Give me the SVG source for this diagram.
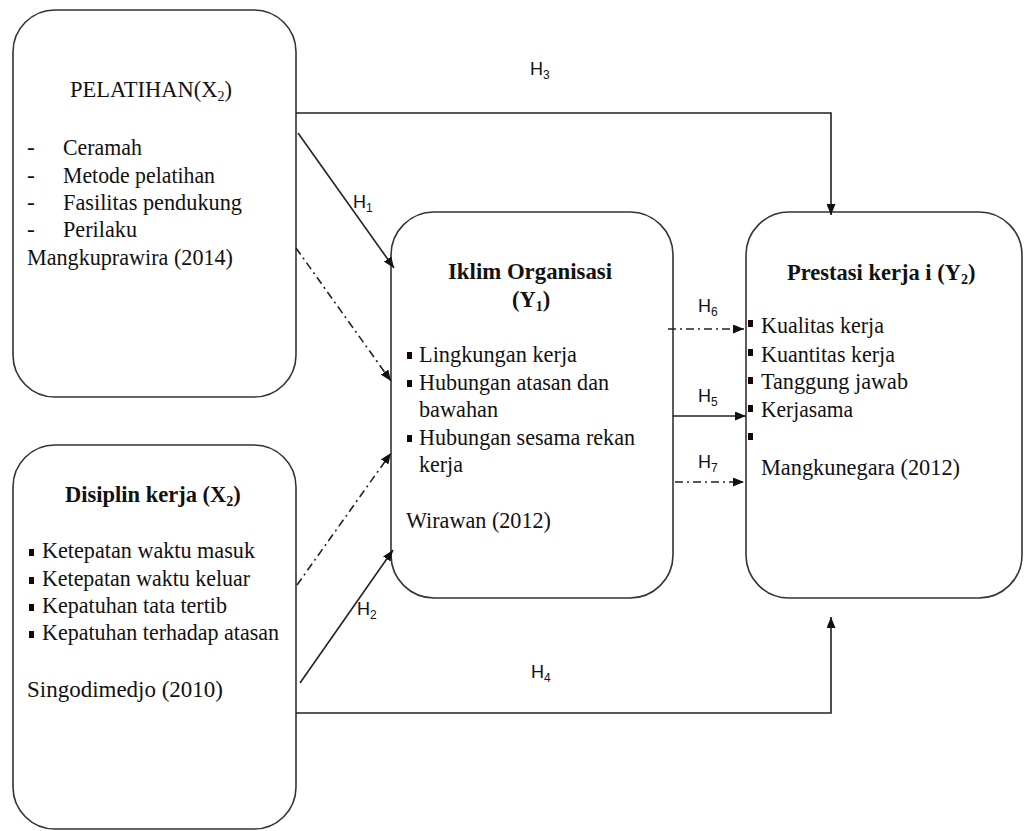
<svg xmlns="http://www.w3.org/2000/svg" width="1024" height="831" viewBox="0 0 1024 831">
<style>
.box{fill:#fff;stroke:#333;stroke-width:1.6}
.t{font-family:"Liberation Serif","Times New Roman",serif;font-size:23.5px;fill:#111}
.b{font-weight:bold}
.tt{font-size:22.5px}
.h{font-family:"Liberation Sans",Arial,sans-serif;font-size:18px;fill:#111}
.sub{font-size:14px}
.hs{font-size:12px}
.bul{fill:#1a0505}
.ln{fill:none;stroke:#222;stroke-width:1.6}
.dd{stroke-dasharray:8 4 2 4}
</style>
<defs>
<marker id="arr" markerUnits="userSpaceOnUse" markerWidth="11" markerHeight="9" refX="11" refY="4.5" orient="auto">
<path d="M0,0 L11,4.5 L0,9 z" fill="#111"/>
</marker>
</defs>
<rect width="1024" height="831" fill="#fff"/>

<g id="pelatihan">
<rect class="box" x="13" y="10" width="283" height="387" rx="42" ry="42"/>
<text class="t tt" x="70" y="97">PELATIHAN(X<tspan class="sub" dy="4">2</tspan><tspan dy="-4">)</tspan></text>
<text class="t" x="27" y="155">-</text><text class="t" x="63" y="155" textLength="79" lengthAdjust="spacingAndGlyphs">Ceramah</text>
<text class="t" x="27" y="183">-</text><text class="t" x="63" y="183" textLength="152" lengthAdjust="spacingAndGlyphs">Metode pelatihan</text>
<text class="t" x="27" y="210">-</text><text class="t" x="63" y="210" textLength="179" lengthAdjust="spacingAndGlyphs">Fasilitas pendukung</text>
<text class="t" x="27" y="237">-</text><text class="t" x="63" y="237" textLength="74" lengthAdjust="spacingAndGlyphs">Perilaku</text>
<text class="t" x="27" y="265" textLength="206" lengthAdjust="spacingAndGlyphs">Mangkuprawira (2014)</text>
</g>

<g id="disiplin">
<rect class="box" x="13" y="445" width="283" height="384" rx="42" ry="42"/>
<text class="t b tt" x="65" y="502">Disiplin kerja (X<tspan class="sub" dy="4">2</tspan><tspan dy="-4">)</tspan></text>
<rect class="bul" x="29" y="549" width="5" height="7"/><text class="t" x="42" y="558" textLength="213" lengthAdjust="spacingAndGlyphs">Ketepatan  waktu masuk</text>
<rect class="bul" x="29" y="577" width="5" height="7"/><text class="t" x="42" y="586" textLength="208" lengthAdjust="spacingAndGlyphs">Ketepatan  waktu keluar</text>
<rect class="bul" x="29" y="604" width="5" height="7"/><text class="t" x="42" y="613" textLength="185" lengthAdjust="spacingAndGlyphs">Kepatuhan  tata tertib</text>
<rect class="bul" x="29" y="631" width="5" height="7"/><text class="t" x="42" y="640" textLength="237" lengthAdjust="spacingAndGlyphs">Kepatuhan  terhadap atasan</text>
<text class="t" x="27" y="697" textLength="196" lengthAdjust="spacingAndGlyphs">Singodimedjo  (2010)</text>
</g>

<g id="iklim">
<rect class="box" x="391" y="212" width="282" height="386" rx="43" ry="43"/>
<text class="t b" x="448" y="279" textLength="164" lengthAdjust="spacingAndGlyphs">Iklim Organisasi</text>
<text class="t b tt" x="512" y="307">(Y<tspan class="sub" dy="4">1</tspan><tspan dy="-4">)</tspan></text>
<rect class="bul" x="407" y="352" width="5" height="7"/><text class="t" x="419" y="362" textLength="158" lengthAdjust="spacingAndGlyphs">Lingkungan kerja</text>
<rect class="bul" x="407" y="380" width="5" height="7"/><text class="t" x="419" y="390" textLength="190" lengthAdjust="spacingAndGlyphs">Hubungan atasan dan</text>
<text class="t" x="419" y="417" textLength="79" lengthAdjust="spacingAndGlyphs">bawahan</text>
<rect class="bul" x="407" y="435" width="5" height="7"/><text class="t" x="419" y="445" textLength="216" lengthAdjust="spacingAndGlyphs">Hubungan sesama rekan</text>
<text class="t" x="419" y="472" textLength="44" lengthAdjust="spacingAndGlyphs">kerja</text>
<text class="t" x="406" y="528" textLength="145" lengthAdjust="spacingAndGlyphs">Wirawan (2012)</text>
</g>

<g id="prestasi">
<rect class="box" x="746" y="212" width="276" height="386" rx="43" ry="43"/>
<text class="t b tt" x="787" y="280">Prestasi kerja i (Y<tspan class="sub" dy="4">2</tspan><tspan dy="-4">)</tspan></text>
<rect class="bul" x="748" y="320" width="5" height="7"/><text class="t" x="761" y="333" textLength="123" lengthAdjust="spacingAndGlyphs">Kualitas  kerja</text>
<rect class="bul" x="748" y="349" width="5" height="7"/><text class="t" x="761" y="362" textLength="134" lengthAdjust="spacingAndGlyphs">Kuantitas  kerja</text>
<rect class="bul" x="748" y="377" width="5" height="7"/><text class="t" x="761" y="389" textLength="147" lengthAdjust="spacingAndGlyphs">Tanggung jawab</text>
<rect class="bul" x="748" y="405" width="5" height="7"/><text class="t" x="761" y="417" textLength="92" lengthAdjust="spacingAndGlyphs">Kerjasama</text>
<rect class="bul" x="748" y="433" width="5" height="7"/>
<text class="t" x="761" y="475" textLength="199" lengthAdjust="spacingAndGlyphs">Mangkunegara (2012)</text>
</g>

<g id="connectors">
<polyline class="ln" points="296,113 831,113 831,215" marker-end="url(#arr)"/>
<line class="ln" x1="298" y1="133" x2="394" y2="268" marker-end="url(#arr)"/>
<line class="ln dd" x1="296" y1="248" x2="391" y2="381" marker-end="url(#arr)"/>
<line class="ln dd" x1="297" y1="585" x2="391" y2="453" marker-end="url(#arr)"/>
<line class="ln" x1="300" y1="683" x2="393" y2="550" marker-end="url(#arr)"/>
<polyline class="ln" points="296,713 831,713 831,617" marker-end="url(#arr)"/>
<line class="ln dd" x1="668" y1="329" x2="744" y2="329" marker-end="url(#arr)"/>
<line class="ln" x1="673" y1="416" x2="746" y2="416" marker-end="url(#arr)"/>
<line class="ln dd" x1="675" y1="482" x2="744" y2="482" marker-end="url(#arr)"/>
<text class="h" x="530" y="75">H<tspan class="hs" dy="4">3</tspan></text>
<text class="h" x="353" y="208">H<tspan class="hs" dy="4">1</tspan></text>
<text class="h" x="357" y="615">H<tspan class="hs" dy="4">2</tspan></text>
<text class="h" x="531" y="678">H<tspan class="hs" dy="4">4</tspan></text>
<text class="h" x="698" y="312">H<tspan class="hs" dy="4">6</tspan></text>
<text class="h" x="698" y="402">H<tspan class="hs" dy="4">5</tspan></text>
<text class="h" x="698" y="468">H<tspan class="hs" dy="4">7</tspan></text>
</g>
</svg>
